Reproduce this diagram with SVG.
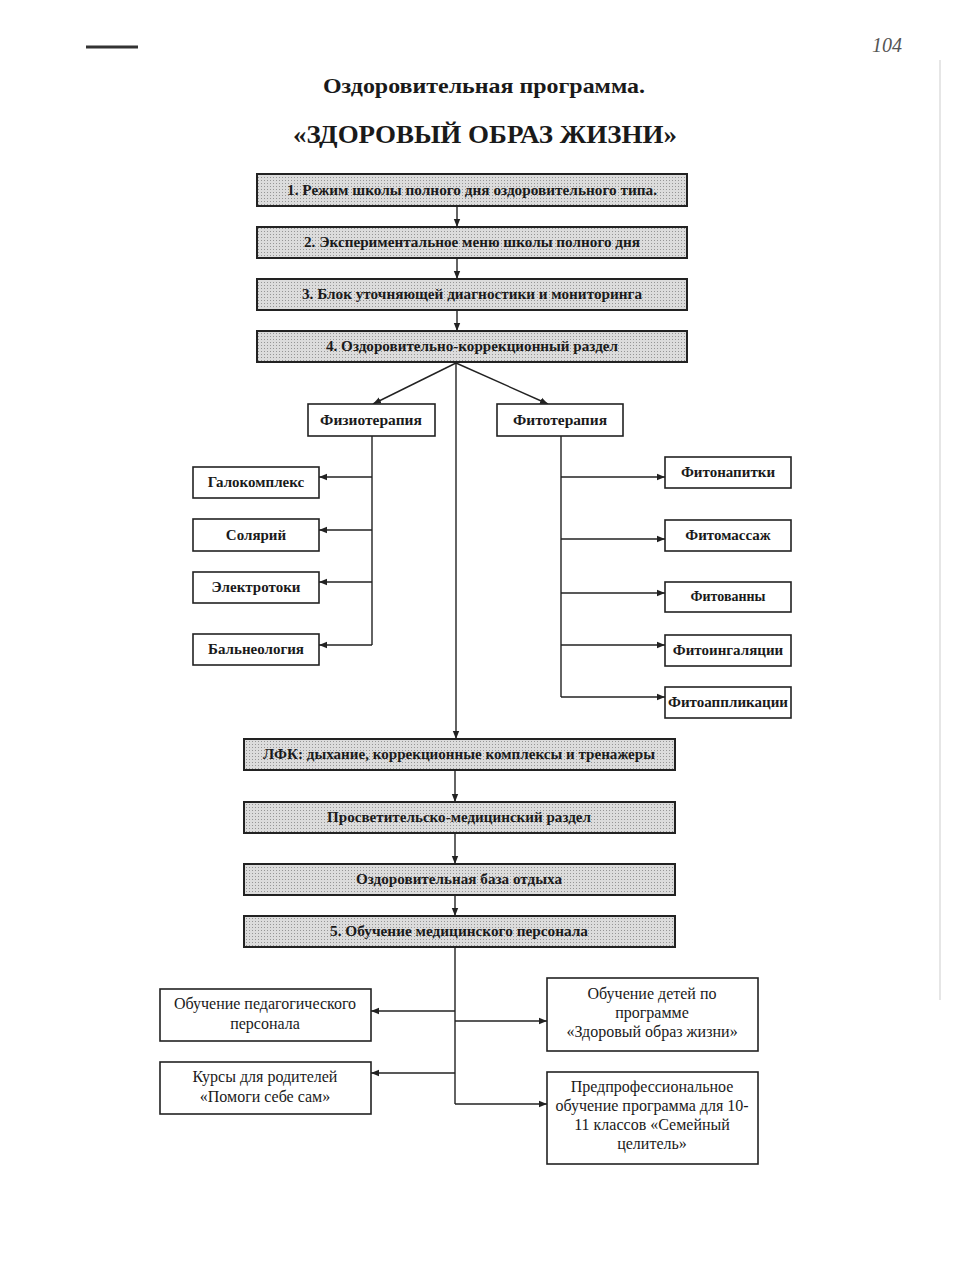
<svg xmlns="http://www.w3.org/2000/svg" width="960" height="1280" viewBox="0 0 960 1280">
<style>
.t{font-family:"Liberation Serif","Times New Roman",serif;fill:#1a1a1a}
.b{font-weight:bold}
.r{font-size:16px}
.sh{fill:#d7d7d7;stroke:#222;stroke-width:2}
.bx{fill:#fff;stroke:#222;stroke-width:1.6}
.c{fill:none;stroke:#222;stroke-width:1.4}
</style>
<defs>
<pattern id="dots" width="3" height="3" patternUnits="userSpaceOnUse">
<rect width="3" height="3" fill="#dcdcdc"/>
<rect width="1" height="1" fill="#969696"/>
</pattern>
<marker id="ar" viewBox="0 0 10 10" refX="10" refY="5" markerWidth="8" markerHeight="8" markerUnits="userSpaceOnUse" orient="auto">
<path d="M0,1 L10,5 L0,9 z" fill="#222"/>
</marker>
</defs>
<rect width="960" height="1280" fill="#fff"/>
<line x1="940" y1="60" x2="940" y2="1000" stroke="#e6e6e6" stroke-width="2"/>
<line x1="86" y1="47" x2="138" y2="47" stroke="#333" stroke-width="3"/>
<text class="t" x="872" y="52" font-size="20" font-style="italic" style="fill:#555">104</text>

<g id="title">
<text class="t b" x="484" y="93" font-size="21" text-anchor="middle" textLength="322" lengthAdjust="spacingAndGlyphs">Оздоровительная программа.</text>
<text class="t b" x="485" y="143" font-size="25" text-anchor="middle" textLength="384" lengthAdjust="spacingAndGlyphs">«ЗДОРОВЫЙ ОБРАЗ ЖИЗНИ»</text>
</g>

<g id="connectors">
<line class="c" x1="457" y1="206" x2="457" y2="227" marker-end="url(#ar)"/>
<line class="c" x1="457" y1="258" x2="457" y2="279" marker-end="url(#ar)"/>
<line class="c" x1="457" y1="310" x2="457" y2="331" marker-end="url(#ar)"/>
<line class="c" x1="456" y1="363" x2="373" y2="404" marker-end="url(#ar)" stroke-width="2"/>
<line class="c" x1="456" y1="363" x2="548" y2="404" marker-end="url(#ar)" stroke-width="2"/>
<line class="c" x1="456" y1="363" x2="456" y2="739" marker-end="url(#ar)"/>
<path class="c" d="M372,436 V645"/>
<line class="c" x1="372" y1="477" x2="319" y2="477" marker-end="url(#ar)"/>
<line class="c" x1="372" y1="530" x2="319" y2="530" marker-end="url(#ar)"/>
<line class="c" x1="372" y1="582" x2="319" y2="582" marker-end="url(#ar)"/>
<line class="c" x1="372" y1="645" x2="319" y2="645" marker-end="url(#ar)"/>
<path class="c" d="M561,436 V697"/>
<line class="c" x1="561" y1="477" x2="665" y2="477" marker-end="url(#ar)"/>
<line class="c" x1="561" y1="539" x2="665" y2="539" marker-end="url(#ar)"/>
<line class="c" x1="561" y1="593" x2="665" y2="593" marker-end="url(#ar)"/>
<line class="c" x1="561" y1="645" x2="665" y2="645" marker-end="url(#ar)"/>
<line class="c" x1="561" y1="697" x2="665" y2="697" marker-end="url(#ar)"/>
<line class="c" x1="455" y1="770" x2="455" y2="802" marker-end="url(#ar)"/>
<line class="c" x1="455" y1="833" x2="455" y2="864" marker-end="url(#ar)"/>
<line class="c" x1="455" y1="895" x2="455" y2="916" marker-end="url(#ar)"/>
<path class="c" d="M455,947 V1104"/>
<line class="c" x1="455" y1="1011" x2="371" y2="1011" marker-end="url(#ar)"/>
<line class="c" x1="455" y1="1073" x2="371" y2="1073" marker-end="url(#ar)"/>
<line class="c" x1="455" y1="1021" x2="547" y2="1021" marker-end="url(#ar)"/>
<line class="c" x1="455" y1="1104" x2="547" y2="1104" marker-end="url(#ar)"/>
</g>

<g id="n1"><rect class="sh" x="257" y="174" width="430" height="32" style="fill:url(#dots)"/>
<text class="t b" x="472" y="195" font-size="15" text-anchor="middle" textLength="370" lengthAdjust="spacingAndGlyphs">1. Режим школы полного дня оздоровительного типа.</text></g>
<g id="n2"><rect class="sh" x="257" y="227" width="430" height="31" style="fill:url(#dots)"/>
<text class="t b" x="472" y="247" font-size="15" text-anchor="middle" textLength="336" lengthAdjust="spacingAndGlyphs">2. Экспериментальное меню школы полного дня</text></g>
<g id="n3"><rect class="sh" x="257" y="279" width="430" height="31" style="fill:url(#dots)"/>
<text class="t b" x="472" y="299" font-size="15" text-anchor="middle" textLength="340" lengthAdjust="spacingAndGlyphs">3. Блок уточняющей диагностики и мониторинга</text></g>
<g id="n4"><rect class="sh" x="257" y="331" width="430" height="31" style="fill:url(#dots)"/>
<text class="t b" x="472" y="351" font-size="15" text-anchor="middle" textLength="292" lengthAdjust="spacingAndGlyphs">4. Оздоровительно-коррекционный раздел</text></g>

<g id="fizio"><rect class="bx" x="308" y="404" width="127" height="32"/>
<text class="t b" x="371" y="425" font-size="15.5" text-anchor="middle">Физиотерапия</text></g>
<g id="fito"><rect class="bx" x="497" y="404" width="126" height="32"/>
<text class="t b" x="560" y="425" font-size="15.5" text-anchor="middle">Фитотерапия</text></g>

<g id="galo"><rect class="bx" x="193" y="467" width="126" height="31"/>
<text class="t b" x="256" y="487" font-size="15" text-anchor="middle">Галокомплекс</text></g>
<g id="sol"><rect class="bx" x="193" y="519" width="126" height="32"/>
<text class="t b" x="256" y="540" font-size="15" text-anchor="middle">Солярий</text></g>
<g id="elek"><rect class="bx" x="193" y="572" width="126" height="31"/>
<text class="t b" x="256" y="592" font-size="15" text-anchor="middle">Электротоки</text></g>
<g id="bal"><rect class="bx" x="193" y="634" width="126" height="31"/>
<text class="t b" x="256" y="654" font-size="15" text-anchor="middle">Бальнеология</text></g>

<g id="fnap"><rect class="bx" x="665" y="457" width="126" height="31"/>
<text class="t b" x="728" y="477" font-size="15" text-anchor="middle">Фитонапитки</text></g>
<g id="fmas"><rect class="bx" x="665" y="520" width="126" height="31"/>
<text class="t b" x="728" y="540" font-size="15" text-anchor="middle">Фитомассаж</text></g>
<g id="fvan"><rect class="bx" x="665" y="582" width="126" height="30"/>
<text class="t b" x="728" y="601" font-size="14" text-anchor="middle">Фитованны</text></g>
<g id="fing"><rect class="bx" x="665" y="635" width="126" height="31"/>
<text class="t b" x="728" y="655" font-size="15" text-anchor="middle">Фитоингаляции</text></g>
<g id="fapp"><rect class="bx" x="665" y="687" width="126" height="31"/>
<text class="t b" x="728" y="707" font-size="15" text-anchor="middle" textLength="120" lengthAdjust="spacingAndGlyphs">Фитоаппликации</text></g>

<g id="lfk"><rect class="sh" x="244" y="739" width="431" height="31" style="fill:url(#dots)"/>
<text class="t b" x="459" y="759" font-size="15" text-anchor="middle" textLength="392" lengthAdjust="spacingAndGlyphs">ЛФК: дыхание, коррекционные комплексы и тренажеры</text></g>
<g id="prosv"><rect class="sh" x="244" y="802" width="431" height="31" style="fill:url(#dots)"/>
<text class="t b" x="459" y="822" font-size="15" text-anchor="middle" textLength="264" lengthAdjust="spacingAndGlyphs">Просветительско-медицинский раздел</text></g>
<g id="baza"><rect class="sh" x="244" y="864" width="431" height="31" style="fill:url(#dots)"/>
<text class="t b" x="459" y="884" font-size="15" text-anchor="middle" textLength="206" lengthAdjust="spacingAndGlyphs">Оздоровительная база отдыха</text></g>
<g id="n5"><rect class="sh" x="244" y="916" width="431" height="31" style="fill:url(#dots)"/>
<text class="t b" x="459" y="936" font-size="15" text-anchor="middle" textLength="258" lengthAdjust="spacingAndGlyphs">5. Обучение медицинского персонала</text></g>

<g id="ped"><rect class="bx" x="160" y="989" width="211" height="52"/>
<text class="t r" x="265" y="1009" text-anchor="middle">Обучение педагогического</text>
<text class="t r" x="265" y="1029" text-anchor="middle">персонала</text></g>
<g id="kurs"><rect class="bx" x="160" y="1062" width="211" height="52"/>
<text class="t r" x="265" y="1082" text-anchor="middle">Курсы для родителей</text>
<text class="t r" x="265" y="1102" text-anchor="middle">«Помоги себе сам»</text></g>
<g id="deti"><rect class="bx" x="547" y="978" width="211" height="73"/>
<text class="t r" x="652" y="999" text-anchor="middle">Обучение детей по</text>
<text class="t r" x="652" y="1018" text-anchor="middle">программе</text>
<text class="t r" x="652" y="1037" text-anchor="middle">«Здоровый образ жизни»</text></g>
<g id="predprof"><rect class="bx" x="547" y="1072" width="211" height="92"/>
<text class="t r" x="652" y="1092" text-anchor="middle">Предпрофессиональное</text>
<text class="t r" x="652" y="1111" text-anchor="middle">обучение программа для 10-</text>
<text class="t r" x="652" y="1130" text-anchor="middle">11 классов «Семейный</text>
<text class="t r" x="652" y="1149" text-anchor="middle">целитель»</text></g>
</svg>
